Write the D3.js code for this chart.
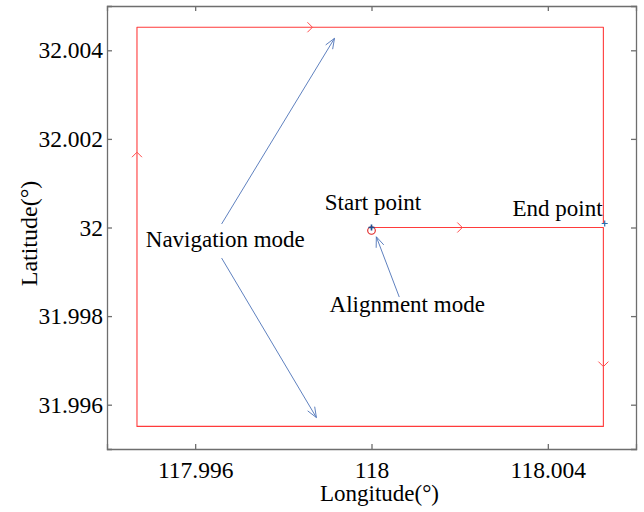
<!DOCTYPE html>
<html>
<head>
<meta charset="utf-8">
<script src="https://cdn.jsdelivr.net/npm/d3@7"></script>
<style>
  html, body { margin: 0; padding: 0; background: #fff; }
  svg { display: block; }
  svg text { font-family: "Liberation Serif", "Times New Roman", "DejaVu Serif", serif !important; fill: #000; }
</style>
</head>
<body>
<svg id="chart" width="644" height="512"></svg>
<script>
// Vehicle track (corner points), degrees
const trackLon = [118.0000, 118.00526, 118.00526, 117.99468, 117.99468, 118.00526, 118.00526];
const trackLat = [32.0000, 32.0000, 31.99551, 31.99551, 32.00452, 32.00452, 32.00008];

// Direction chevrons along the track
const dirLon = [118.00206, 118.00526, 117.99468, 117.99866];
const dirLat = [32.0000, 31.99686, 32.0017, 32.00452];
const dirAngle = [0, 90, -90, 0]; // degrees, 0 = east, 90 = south on screen

// Start / end markers
const startLon = 118.0000, startLat = 32.0000;
const endLon = 118.00529, endLat = 32.00009;

// Axis ticks
const xTicks = [117.996, 118, 118.004];
const yTicks = [31.996, 31.998, 32, 32.002, 32.004];
const xDomain = [117.994, 118.006];
const yDomain = [31.995, 32.005];

// Annotation arrows [lon0, lat0, lon1, lat1]
const arrows = [
  [117.99660, 32.00008, 117.99916, 32.00427],
  [117.99660, 31.99931, 117.99875, 31.99571],
  [118.00063, 31.99843, 118.00011, 31.99979]
];
// Annotation labels
const labelText = ["Navigation mode", "Start point", "End point", "Alignment mode"];
const labelLon = [117.99488, 117.99894, 118.00320, 117.99905];
const labelLat = [31.99955, 32.00040, 32.00025, 31.99810];

const svg = d3.select("#chart");
const M = { left: 107, right: 636, top: 6, bottom: 449 };
const serif = '"Liberation Serif", "Times New Roman", "DejaVu Serif", serif';

const x = d3.scaleLinear().domain(xDomain).range([M.left, M.right]);
const y = d3.scaleLinear().domain(yDomain).range([M.bottom, M.top]);

const axisColor = "#6e6e6e";
const fmt = d => d3.format("~g")(d);

// Axes, with inward ticks on all four sides
const gx = svg.append("g").attr("transform", `translate(0,${M.bottom})`)
  .call(d3.axisBottom(x).tickValues(xTicks).tickSize(-5).tickPadding(12).tickFormat(fmt));
const gxt = svg.append("g").attr("transform", `translate(0,${M.top})`)
  .call(d3.axisTop(x).tickValues(xTicks).tickSize(-5).tickFormat(""));
const gy = svg.append("g").attr("transform", `translate(${M.left},0)`)
  .call(d3.axisLeft(y).tickValues(yTicks).tickSize(-5).tickPadding(4).tickFormat(fmt));
const gyr = svg.append("g").attr("transform", `translate(${M.right},0)`)
  .call(d3.axisRight(y).tickValues(yTicks).tickSize(-5).tickFormat(""));

[gx, gxt, gy, gyr].forEach(g => {
  g.attr("font-family", serif);
  g.select(".domain").attr("stroke", axisColor).attr("stroke-width", 1.3);
  g.selectAll(".tick line").attr("stroke", axisColor).attr("stroke-width", 1.3);
  g.selectAll(".tick text").attr("font-family", serif).attr("font-size", 23.5).attr("fill", "#111");
});

// Track
const pts = trackLon.map((lo, i) => [x(lo), y(trackLat[i])]);
svg.append("path")
  .attr("d", d3.line()(pts))
  .attr("fill", "none")
  .attr("stroke", "#ff3b3b")
  .attr("stroke-width", 1.1)
  .attr("stroke-linejoin", "round");

// Direction chevrons
dirLon.forEach((lo, i) => {
  svg.append("path")
    .attr("transform", `translate(${x(lo)},${y(dirLat[i])}) rotate(${dirAngle[i]})`)
    .attr("d", "M-5,-5L0,0L-5,5")
    .attr("fill", "none")
    .attr("stroke", "#ff4d4d")
    .attr("stroke-width", 1);
});

// Annotation arrows
const blue = "#4d73b8";
arrows.forEach(a => {
  const x0 = x(a[0]), y0 = y(a[1]), x1 = x(a[2]), y1 = y(a[3]);
  const ang = Math.atan2(y1 - y0, x1 - x0);
  const L = 11, w = 0.38;
  const h1 = [x1 - L * Math.cos(ang - w), y1 - L * Math.sin(ang - w)];
  const h2 = [x1 - L * Math.cos(ang + w), y1 - L * Math.sin(ang + w)];
  svg.append("line").attr("x1", x0).attr("y1", y0).attr("x2", x1).attr("y2", y1)
    .attr("stroke", blue).attr("stroke-width", 0.9);
  svg.append("path").attr("d", `M${h1[0]},${h1[1]}L${x1},${y1}L${h2[0]},${h2[1]}`)
    .attr("fill", "none").attr("stroke", blue).attr("stroke-width", 0.9);
});

// Start point markers
svg.append("circle")
  .attr("cx", x(startLon)).attr("cy", y(startLat) + 3)
  .attr("r", 3.8).attr("fill", "none").attr("stroke", "#e02020").attr("stroke-width", 1.1);
svg.append("path")
  .attr("transform", `translate(${x(startLon)},${y(startLat)})`)
  .attr("d", "M-3,0H3M0,-3V3")
  .attr("stroke", "#1f4f8f").attr("stroke-width", 1.6);
svg.append("path")
  .attr("transform", `translate(${x(endLon)},${y(endLat)})`)
  .attr("d", "M-3,0H3M0,-3V3")
  .attr("stroke", "#2a6fb0").attr("stroke-width", 1.2);

// Labels
labelText.forEach((t, i) => {
  svg.append("text")
    .attr("x", x(labelLon[i])).attr("y", y(labelLat[i]))
    .attr("font-family", serif)
    .attr("font-size", 23)
    .text(t);
});

// Axis titles
svg.append("text")
  .attr("x", (M.left + M.right) / 2 + 8).attr("y", 501)
  .attr("text-anchor", "middle").attr("font-size", 23)
  .attr("font-family", serif)
  .text("Longitude(°)");
svg.append("text")
  .attr("transform", `translate(37,${(M.top + M.bottom) / 2 + 6}) rotate(-90)`)
  .attr("text-anchor", "middle").attr("font-size", 24)
  .attr("font-family", serif)
  .text("Latitude(°)");
</script>
</body>
</html>
